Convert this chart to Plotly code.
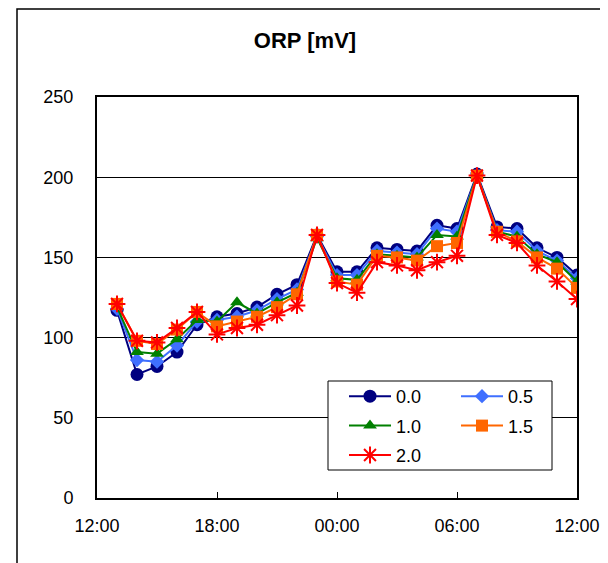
import plotly.graph_objects as go

times = ["2000-01-01 13:00", "2000-01-01 14:00", "2000-01-01 15:00", "2000-01-01 16:00",
         "2000-01-01 17:00", "2000-01-01 18:00", "2000-01-01 19:00", "2000-01-01 20:00",
         "2000-01-01 21:00", "2000-01-01 22:00", "2000-01-01 23:00", "2000-01-02 00:00",
         "2000-01-02 01:00", "2000-01-02 02:00", "2000-01-02 03:00", "2000-01-02 04:00",
         "2000-01-02 05:00", "2000-01-02 06:00", "2000-01-02 07:00", "2000-01-02 08:00",
         "2000-01-02 09:00", "2000-01-02 10:00", "2000-01-02 11:00", "2000-01-02 12:00"]

s00 = [117, 77, 82, 91, 108, 113, 115, 119, 127, 133, 164, 141, 141, 156, 155, 154, 170, 168, 202, 169, 168, 156, 150, 139]
s05 = [118, 86, 85, 95, 110, 111, 113, 117, 124, 130, 163, 139, 139, 154, 153, 152, 168, 166, 201, 167, 166, 154, 148, 137]
s10 = [119, 91, 90, 99, 111, 110, 122, 115, 122, 128, 162, 137, 136, 152, 151, 150, 164, 163, 201, 166, 163, 152, 147, 135]
s15 = [121, 98, 96, 105, 116, 107, 110, 113, 119, 127, 164, 135, 133, 151, 150, 148, 157, 159, 201, 166, 160, 150, 143, 131]
s20 = [121, 98, 97, 106, 116, 102, 106, 108, 114, 120, 164, 134, 128, 147, 145, 142, 147, 151, 201, 164, 159, 145, 135, 124]

names = ["0.0", "0.5", "1.0", "1.5", "2.0"]
series = [s00, s05, s10, s15, s20]
colors = ["#000080", "#3F6FFF", "#008000", "#FF6600", "#FF0000"]
symbols = ["circle", "diamond", "triangle-up", "square", "asterisk-open"]
sizes = [13, 11, 12, 12, 14]
legend_ids = ["legend", "legend2", "legend", "legend2", "legend"]

# page body has an 8px margin: plot area target is x 97..577, y 97..498 in the window
OFF = 8
W, H = 608 - OFF, 563 - OFF
L, R, T, B = 97 - OFF, 608 - 577, 97 - OFF, 563 - 498
PW, PH = 480, 401

fig = go.Figure()
for i, (n, s, c, sym, sz, lg) in enumerate(zip(names, series, colors, symbols, sizes, legend_ids)):
    marker = dict(symbol=sym, size=sz, color=c)
    if sym == "asterisk-open":
        marker["line"] = dict(color=c, width=2)
    else:
        marker["line"] = dict(width=0)
    fig.add_trace(go.Scatter(x=times, y=s, name=n, mode="lines+markers",
                             line=dict(color=c, width=2), marker=marker,
                             legend=lg, legendgroup="g%d" % i))


def px_x(x):
    return (x - 97) / PW


def px_y(y):
    return (498 - y) / PH


leg_common = dict(orientation="v", xanchor="left", yanchor="top",
                  bgcolor="rgba(0,0,0,0)", borderwidth=0,
                  font=dict(size=18, color="black"), tracegroupgap=3, itemwidth=42)

fig.update_layout(
    width=W, height=H,
    margin=dict(l=L, r=R, t=T, b=B, autoexpand=False),
    paper_bgcolor="white", plot_bgcolor="white",
    font=dict(family="Arial, Liberation Sans, sans-serif", size=18, color="black"),
    title=dict(text="<b>ORP [mV]</b>", x=(305 - OFF) / W, xref="container", xanchor="center",
               y=1 - (40 - OFF) / H, yref="container", yanchor="middle",
               font=dict(size=22, color="black")),
    showlegend=True,
    legend=dict(x=px_x(344), y=px_y(378), **leg_common),
    legend2=dict(x=px_x(456), y=px_y(378), **leg_common),
    hovermode=False,
)
fig.update_xaxes(type="date", range=["2000-01-01 12:00", "2000-01-02 12:00"],
                 tickformat="%H:%M", dtick=6 * 3600 * 1000, tick0="2000-01-01 12:00",
                 showgrid=False, showline=True, linecolor="black", linewidth=2, mirror=True,
                 ticks="inside", ticklen=6, tickcolor="black", tickwidth=1,
                 ticklabelstandoff=10, zeroline=False)
fig.update_yaxes(range=[0, 250], dtick=50, showgrid=True, gridcolor="black", gridwidth=1,
                 showline=True, linecolor="black", linewidth=2, mirror=True,
                 ticks="", ticklabelstandoff=18, zeroline=False)

# outer chart frame
fig.add_shape(type="rect", xref="paper", yref="paper",
              x0=px_x(17), x1=px_x(604), y0=px_y(580), y1=px_y(9),
              line=dict(color="black", width=1.5), layer="below")
# legend box
fig.add_shape(type="rect", xref="paper", yref="paper",
              x0=px_x(328), x1=px_x(552), y0=px_y(470), y1=px_y(381),
              line=dict(color="black", width=1), fillcolor="white", layer="above")

fig.write_html("out.html")
